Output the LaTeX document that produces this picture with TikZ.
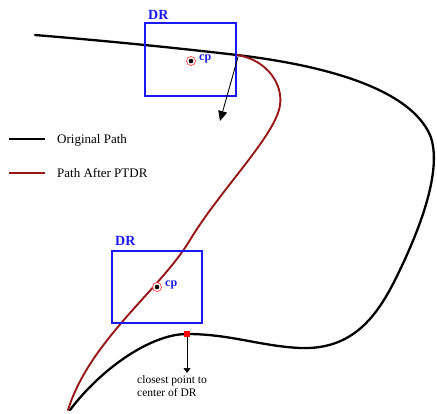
\documentclass[tikz,border=0pt]{standalone}
\usepackage{fontspec}
\setmainfont{Liberation Serif}
\usetikzlibrary{arrows.meta,positioning}
\definecolor{pathred}{RGB}{150,22,22}
\definecolor{drblue}{RGB}{25,25,245}

\begin{document}
\begin{tikzpicture}[x=1pt, y=-1pt,
  orig/.style={line width=2.3pt, black, line cap=round},
  ptdr/.style={line width=1.9pt, pathred, line cap=round},
  drbox/.style={draw=drblue, line width=2.4pt},
  drlabel/.style={anchor=base west, inner sep=0pt, text=drblue, font=\fontsize{14}{14}\selectfont\bfseries},
  cplabel/.style={anchor=base west, inner sep=0pt, text=drblue, font=\fontsize{12}{12}\selectfont\bfseries},
  cpring/.style={circle, draw=red!75, line width=0.7pt, fill=white, minimum size=9pt, inner sep=0pt},
  legtext/.style={anchor=base west, inner sep=0pt, font=\fontsize{13}{13}\selectfont},
  arr/.style={-{Triangle[length=10pt, width=9pt]}, line width=0.9pt, black},
  smallarr/.style={-{Triangle[length=5pt, width=7pt]}, line width=0.6pt, black}
]
  \useasboundingbox (0,0) rectangle (437,413);

  % original path
  \draw[orig] (35,35) .. controls (120,42) and (190,49.5) .. (237,55)
    .. controls (330,66) and (410,90) .. (430,135)
    .. controls (442,165) and (425,220) .. (395,280)
    .. controls (375,320) and (350,350) .. (300,348)
    .. controls (260,346) and (230,334) .. (187,334)
    .. controls (150,334) and (100,370) .. (70,410);

  % path after PTDR
  \draw[ptdr] (237,55) .. controls (268,60) and (283,85) .. (280,105)
    .. controls (276,135) and (220,190) .. (190,240)
    .. controls (160,290) and (90,340) .. (68,410);

  % upper DR
  \draw[drbox] (145,23) rectangle (236,96);
  \node[drlabel] (dr1) at (148,19) {DR};
  \node[cpring] (cp1) at (191,61) {};
  \fill[black] (cp1.center) circle (2.3pt);
  \node[cplabel] (cp1lab) at (199,60) {cp};
  \coordinate (tan1) at (238,57);
  \coordinate (dir1) at (220,121);
  \draw[arr] (tan1) -- (dir1);

  % lower DR
  \draw[drbox] (112,251) rectangle (202,323);
  \node[drlabel] (dr2) at (115,245) {DR};
  \node[cpring] (cp2) at (157,287) {};
  \fill[black] (cp2.center) circle (2.3pt);
  \node[cplabel] (cp2lab) at (165,286) {cp};

  % closest point
  \node[rectangle, fill=red, minimum size=6.5pt, inner sep=0pt] (near) at (187,334) {};
  \node[anchor=north west, inner sep=0pt, align=left, font=\fontsize{11.5}{13}\selectfont] (note) at (137,375) {closest point to\\center of DR};
  \coordinate (tip2) at (187,373);
  \draw[smallarr] (near) -- (tip2);

  % legend
  \coordinate (l1a) at (9,139);
  \coordinate (l1b) at (45,139);
  \draw[orig, line cap=butt] (l1a) -- (l1b);
  \node[legtext] (leg1) at (57,143) {Original Path};
  \coordinate (l2a) at (9,173);
  \coordinate (l2b) at (45,173);
  \draw[ptdr, line cap=butt] (l2a) -- (l2b);
  \node[legtext] (leg2) at (57,177) {Path After PTDR};
\end{tikzpicture}
\end{document}
